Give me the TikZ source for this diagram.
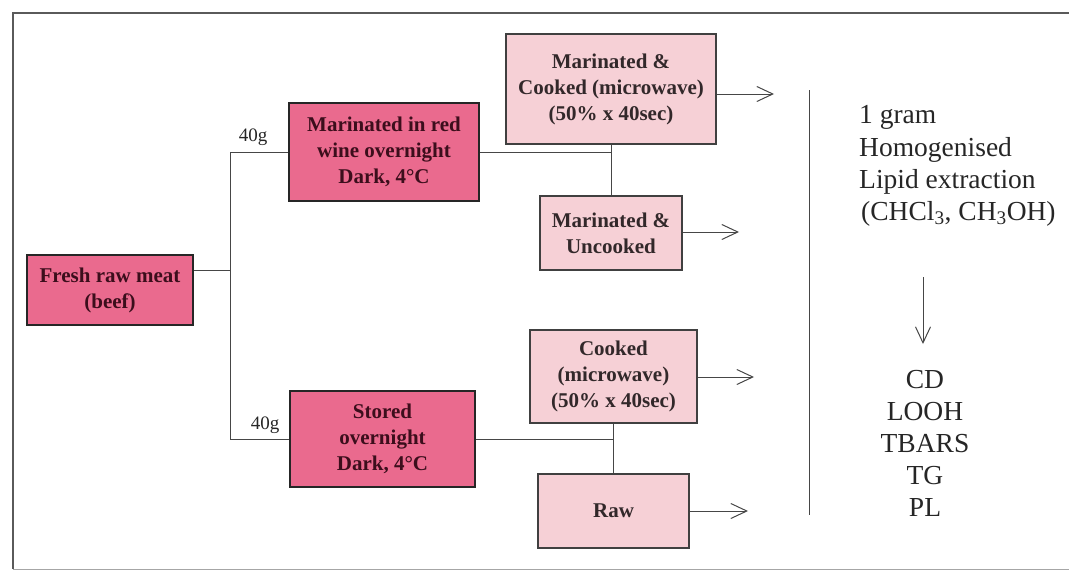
\documentclass[tikz,border=0pt]{standalone}
\usepackage{fontspec}
\setmainfont{Liberation Serif}
\usetikzlibrary{arrows.meta}
\definecolor{darkpink}{RGB}{234,106,142}
\definecolor{lightpink}{RGB}{246,208,214}
\definecolor{framegray}{RGB}{90,90,90}
\definecolor{linegray}{RGB}{70,70,70}
\definecolor{maroon}{RGB}{60,14,28}
\definecolor{inkgray}{RGB}{50,40,42}
\begin{document}
\begin{tikzpicture}[x=1pt,y=-1pt,
  darkbox/.style={draw=black!85, line width=1.6pt, fill=darkpink, align=center, inner sep=0pt,
    text=maroon, font=\fontsize{21}{26}\selectfont\bfseries},
  lightbox/.style={draw=black!75, line width=1.1pt, fill=lightpink, align=center, inner sep=0pt,
    text=inkgray, font=\fontsize{21}{26}\selectfont\bfseries},
  conn/.style={draw=linegray, line width=1pt},
  arr/.style={draw=linegray, line width=1pt, -{Straight Barb[length=16pt,width=15pt,line width=1pt]}},
  wlabel/.style={inner sep=0pt, font=\fontsize{19}{22}\selectfont, text=black!85},
  righttext/.style={inner sep=0pt, font=\fontsize{27.5}{32}\selectfont, text=black!85}
]
\useasboundingbox (0,0) rectangle (1069,573);
% frame
\draw[framegray, line width=1.4pt] (13,569) -- (13,13) -- (1069,13);
\draw[black!35, line width=1pt] (13,569) -- (1069,569);

% boxes
\node[darkbox, minimum width=166, minimum height=70] (fresh) at (110,290) {Fresh raw meat\\(beef)};
\node[darkbox, minimum width=190, minimum height=98] (mar) at (384,152) {Marinated in red\\wine overnight\\Dark, 4\textdegree C};
\node[darkbox, minimum width=185, minimum height=96] (sto) at (382.5,439) {Stored\\overnight\\Dark, 4\textdegree C};
\node[lightbox, minimum width=210, minimum height=110] (mc) at (611,89) {Marinated \&\\Cooked (microwave)\\(50\% x 40sec)};
\node[lightbox, minimum width=142, minimum height=74] (mu) at (611,233) {Marinated \&\\Uncooked};
\node[lightbox, minimum width=167, minimum height=93] (ck) at (613.5,376.5) {Cooked\\(microwave)\\(50\% x 40sec)};
\node[lightbox, minimum width=151, minimum height=74] (raw) at (613.5,511) {Raw};

% junction
\coordinate (j) at (230,270);
\coordinate (jt) at (230,152);
\coordinate (jb) at (230,439);
\draw[conn] (fresh.east |- j) -- (j);
\draw[conn] (jt) -- (jb);
\draw[conn] (jt) -- (mar.west |- jt);
\draw[conn] (jb) -- (sto.west |- jb);
\node[wlabel] (l1) at (253,137) {40g};
\node[wlabel] (l2) at (265,425) {40g};

\draw[conn] (mar.east) -- (mc.south |- mar.east);
\draw[conn] (mc.south) -- (mu.north);
\draw[conn] (sto.east) -- (ck.south |- sto.east);
\draw[conn] (ck.south) -- (raw.north);

% output arrows
\coordinate (a1) at (774,94);
\coordinate (a2) at (739,232);
\coordinate (a3) at (754,377);
\coordinate (a4) at (748,511);
\draw[arr] (mc.east |- a1) -- (a1);
\draw[arr] (mu.east |- a2) -- (a2);
\draw[arr] (ck.east |- a3) -- (a3);
\draw[arr] (raw.east |- a4) -- (a4);

% divider
\coordinate (d1) at (809,90);
\coordinate (d2) at (809,515);
\draw[conn] (d1) -- (d2);

% right-hand text
\node[righttext, anchor=west] (t1) at (859,117) {1 gram};
\node[righttext, anchor=west] (t2) at (859,150) {Homogenised};
\node[righttext, anchor=west] (t3) at (859,182) {Lipid extraction};
\node[righttext, anchor=west] (t4) at (861,214) {(CHCl\textsubscript{3}, CH\textsubscript{3}OH)};

\coordinate (v1) at (923,277);
\coordinate (v2) at (923,344);
\draw[arr] (v1) -- (v2);

\node[righttext, align=center, anchor=north] (res) at (925,370) {CD\\LOOH\\TBARS\\TG\\PL};
\end{tikzpicture}
\end{document}
